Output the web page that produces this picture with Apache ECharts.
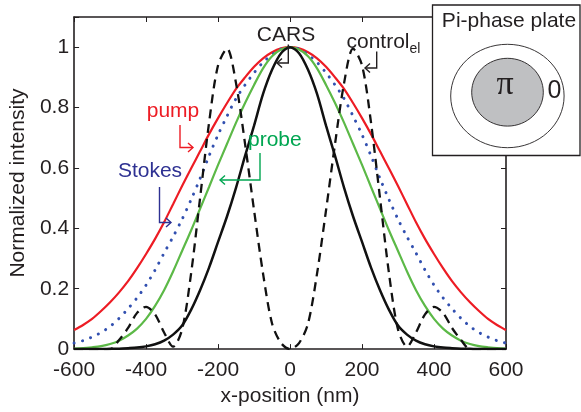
<!DOCTYPE html>
<html><head><meta charset="utf-8">
<script src="https://cdn.jsdelivr.net/npm/echarts@6/dist/echarts.min.js"></script>
<style>html,body{margin:0;padding:0;background:#fff}#c{width:581px;height:412px}</style>
</head><body><div id="c"></div>
<script>
// x positions (nm), every 25 nm
const xPos = [-600,-575,-550,-525,-500,-475,-450,-425,-400,-375,-350,-325,-300,-275,-250,-225,-200,-175,-150,-125,-100,-75,-50,-25,0,25,50,75,100,125,150,175,200,225,250,275,300,325,350,375,400,425,450,475,500,525,550,575,600];
// normalized intensities
const pump   = [0.063,0.08,0.10,0.126,0.155,0.188,0.225,0.268,0.315,0.365,0.42,0.48,0.54,0.598,0.655,0.712,0.765,0.815,0.862,0.90,0.935,0.963,0.983,0.996,1,0.996,0.983,0.963,0.935,0.90,0.862,0.815,0.765,0.712,0.655,0.598,0.54,0.48,0.42,0.365,0.315,0.268,0.225,0.188,0.155,0.126,0.10,0.08,0.063];
const stokes = [0.02,0.028,0.04,0.055,0.075,0.102,0.134,0.17,0.212,0.262,0.318,0.372,0.43,0.495,0.565,0.64,0.71,0.772,0.83,0.875,0.915,0.95,0.975,0.994,1,0.994,0.975,0.95,0.915,0.875,0.83,0.772,0.71,0.64,0.565,0.495,0.43,0.372,0.318,0.262,0.212,0.17,0.134,0.102,0.075,0.055,0.04,0.028,0.02];
const probe  = [0.002,0.003,0.006,0.01,0.017,0.028,0.045,0.068,0.10,0.143,0.195,0.257,0.325,0.393,0.465,0.537,0.61,0.68,0.75,0.815,0.875,0.93,0.97,0.992,1,0.992,0.97,0.93,0.875,0.815,0.75,0.68,0.61,0.537,0.465,0.393,0.325,0.257,0.195,0.143,0.10,0.068,0.045,0.028,0.017,0.01,0.006,0.003,0.002];
const cars   = [0,0,0,0,0.001,0.0015,0.003,0.005,0.009,0.016,0.028,0.048,0.078,0.13,0.195,0.27,0.355,0.44,0.535,0.64,0.74,0.845,0.925,0.98,1,0.98,0.925,0.845,0.74,0.64,0.535,0.44,0.355,0.27,0.195,0.13,0.078,0.048,0.028,0.016,0.009,0.005,0.003,0.0015,0.001,0,0,0,0];
const controlEl = [0,0,0,0,0,0.03,0.07,0.12,0.14,0.115,0.055,0.008,0.065,0.25,0.50,0.75,0.94,0.995,0.88,0.68,0.46,0.25,0.085,0.02,0,0.02,0.085,0.25,0.46,0.68,0.88,0.995,0.94,0.75,0.50,0.25,0.065,0.008,0.055,0.115,0.14,0.12,0.07,0.03,0,0,0,0,0];
const xTicks = [-600,-400,-200,0,200,400,600];
const yTicks = [0,0.2,0.4,0.6,0.8,1];

const FONT = 'Liberation Sans, Arial, Helvetica, sans-serif';
const INK = '#231f20';
const pairs = (xs, ys) => xs.map((x, i) => [x, ys[i]]);

const chart = echarts.init(document.getElementById('c'), null, {renderer: 'canvas'});

const axisCommon = {
  axisLine: {show: true, onZero: false, lineStyle: {color: INK, width: 1.6}},
  axisTick: {show: true, inside: true, length: 5, lineStyle: {color: INK, width: 1}},
  splitLine: {show: false}
};

function line(name, ys, color, width, type, cap, z) {
  return {
    name, type: 'line', data: pairs(xPos, ys), smooth: 0.3, showSymbol: false, symbol: 'none',
    lineStyle: {color, width, type, cap: cap || 'butt'}, z: z || 2, animation: false, clip: true
  };
}

chart.setOption({
  animation: false,
  backgroundColor: '#fff',
  grid: {left: 70, right: 75, top: 17, bottom: 57, containLabel: false},
  xAxis: [
    Object.assign({type: 'value', min: -600, max: 600, interval: 200, position: 'bottom',
      name: 'x-position (nm)', nameLocation: 'middle', nameGap: 29,
      nameTextStyle: {fontFamily: FONT, fontSize: 21, color: INK, verticalAlign: 'top'},
      axisLabel: {fontFamily: FONT, fontSize: 21, color: INK, margin: 11,
        formatter: v => xTicks.includes(v) ? String(v) : ''}}, axisCommon),
    Object.assign({type: 'value', min: -600, max: 600, interval: 200, position: 'top',
      axisLabel: {show: false}}, axisCommon)
  ],
  yAxis: [
    Object.assign({type: 'value', min: 0, max: 1.1, interval: 0.2, position: 'left',
      name: 'Normalized intensity', nameLocation: 'middle', nameGap: 39,
      nameTextStyle: {fontFamily: FONT, fontSize: 21, color: INK},
      axisLabel: {fontFamily: FONT, fontSize: 21, color: INK, margin: 5,
        formatter: v => { const t = yTicks.find(k => Math.abs(k - v) < 1e-6); return t === undefined ? '' : String(t); }}}, axisCommon),
    Object.assign({type: 'value', min: 0, max: 1.1, interval: 0.2, position: 'right',
      axisLabel: {show: false}}, axisCommon)
  ],
  series: [
    line('pump', pump, '#ed1c24', 2.2, 'solid'),
    line('Stokes', stokes, '#3250b0', 3, [0.1, 8.5], 'round'),
    line('probe', probe, '#5cb947', 2.2, 'solid'),
    line('CARS', cars, '#111111', 2.5, 'solid'),
    line('control_el', controlEl, '#111111', 2.3, [9, 6], 'butt', 3)
  ],
  graphic: [
    // annotations
    {type: 'text', z: 50, style: {text: 'pump', x: 173, y: 111, align: 'center', verticalAlign: 'middle', font: '21px ' + FONT, fill: '#ed1c24'}},
    {type: 'polyline', z: 50, shape: {points: [[180,125],[180,147.5],[193,147.5]]}, style: {stroke: '#ed1c24', lineWidth: 1.4, fill: null}},
    {type: 'polyline', z: 50, shape: {points: [[188,143],[193,147.5],[188,152]]}, style: {stroke: '#ed1c24', lineWidth: 1.4, fill: null}},

    {type: 'text', z: 50, style: {text: 'Stokes', x: 150, y: 171, align: 'center', verticalAlign: 'middle', font: '21px ' + FONT, fill: '#2e3192'}},
    {type: 'polyline', z: 50, shape: {points: [[159.5,187],[159.5,222.5],[171,222.5]]}, style: {stroke: '#2e3192', lineWidth: 1.4, fill: null}},
    {type: 'polyline', z: 50, shape: {points: [[166,218],[171,222.5],[166,227]]}, style: {stroke: '#2e3192', lineWidth: 1.4, fill: null}},

    {type: 'text', z: 50, style: {text: 'probe', x: 248, y: 140.5, align: 'left', verticalAlign: 'middle', font: '21px ' + FONT, fill: '#00a651'}},
    {type: 'polyline', z: 50, shape: {points: [[260,153],[260,180],[220,180]]}, style: {stroke: '#00a651', lineWidth: 1.4, fill: null}},
    {type: 'polyline', z: 50, shape: {points: [[225,175.5],[220,180],[225,184.5]]}, style: {stroke: '#00a651', lineWidth: 1.4, fill: null}},

    {type: 'text', z: 50, style: {text: 'CARS', x: 286, y: 35, align: 'center', verticalAlign: 'middle', font: '21px ' + FONT, fill: INK}},
    {type: 'polyline', z: 50, shape: {points: [[288.3,44.5],[288.3,63],[277,63]]}, style: {stroke: INK, lineWidth: 1.4, fill: null}},
    {type: 'polyline', z: 50, shape: {points: [[282,58.5],[277,63],[282,67.5]]}, style: {stroke: INK, lineWidth: 1.4, fill: null}},

    {type: 'text', z: 50, style: {text: 'control', x: 346.5, y: 42.5, align: 'left', verticalAlign: 'middle', font: '21px ' + FONT, fill: INK}},
    {type: 'text', z: 50, style: {text: 'el', x: 409.5, y: 49, align: 'left', verticalAlign: 'middle', font: '14px ' + FONT, fill: INK}},
    {type: 'polyline', z: 50, shape: {points: [[376.7,51.5],[376.7,68],[365,68]]}, style: {stroke: INK, lineWidth: 1.4, fill: null}},
    {type: 'polyline', z: 50, shape: {points: [[370,63.5],[365,68],[370,72.5]]}, style: {stroke: INK, lineWidth: 1.4, fill: null}},

    // inset: Pi-phase plate
    {type: 'rect', z: 100, shape: {x: 432.5, y: 5, width: 147.5, height: 150.5}, style: {fill: '#fff', stroke: INK, lineWidth: 1.3}},
    {type: 'text', z: 101, style: {text: 'Pi-phase plate', x: 509, y: 21.5, align: 'center', verticalAlign: 'middle', font: '21px ' + FONT, fill: INK}},
    {type: 'ellipse', z: 101, shape: {cx: 507.4, cy: 96, rx: 56.7, ry: 51.7}, style: {fill: '#fff', stroke: INK, lineWidth: 0.9}},
    {type: 'ellipse', z: 102, shape: {cx: 507.5, cy: 92.2, rx: 35.8, ry: 33.9}, style: {fill: '#bfc0c2', stroke: INK, lineWidth: 0.9}},
    {type: 'text', z: 103, style: {text: 'π', x: 505, y: 85, align: 'center', verticalAlign: 'middle', font: '34px Liberation Serif, Times New Roman, serif', fill: INK}},
    {type: 'text', z: 103, style: {text: '0', x: 554.5, y: 91, align: 'center', verticalAlign: 'middle', font: '25px ' + FONT, fill: INK}}
  ]
});
</script>
</body></html>
